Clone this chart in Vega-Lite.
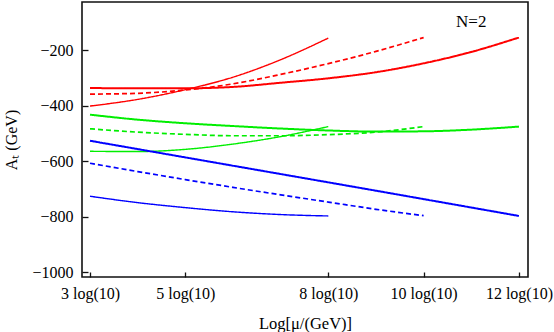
{
  "$schema": "https://vega.github.io/schema/vega-lite/v6.json",
  "width": 446,
  "height": 275,
  "autosize": {"type": "none"},
  "padding": {"left": 82, "top": 2, "right": 26, "bottom": 55},
  "background": "white",
  "config": {
    "view": {"stroke": "#111", "strokeWidth": 1.6},
    "font": "Liberation Serif",
    "axis": {"labelFont": "Liberation Serif", "titleFont": "Liberation Serif", "labelColor": "#000", "titleColor": "#000", "titleFontWeight": "normal", "tickColor": "#111", "grid": false, "domain": false}
  },
  "datasets": {
    "curves": [
      {"x": 3, "y": -337, "group": "red", "kind": "thick"},
      {"x": 4, "y": -338, "group": "red", "kind": "thick"},
      {"x": 5, "y": -338, "group": "red", "kind": "thick"},
      {"x": 6, "y": -333, "group": "red", "kind": "thick"},
      {"x": 7, "y": -318, "group": "red", "kind": "thick"},
      {"x": 8, "y": -302, "group": "red", "kind": "thick"},
      {"x": 9, "y": -280, "group": "red", "kind": "thick"},
      {"x": 10, "y": -248, "group": "red", "kind": "thick"},
      {"x": 11, "y": -207, "group": "red", "kind": "thick"},
      {"x": 12, "y": -155, "group": "red", "kind": "thick"},
      {"x": 3, "y": -359, "group": "red", "kind": "dashed"},
      {"x": 4, "y": -356, "group": "red", "kind": "dashed"},
      {"x": 5, "y": -344, "group": "red", "kind": "dashed"},
      {"x": 6, "y": -322, "group": "red", "kind": "dashed"},
      {"x": 7, "y": -288, "group": "red", "kind": "dashed"},
      {"x": 8, "y": -249, "group": "red", "kind": "dashed"},
      {"x": 9, "y": -205, "group": "red", "kind": "dashed"},
      {"x": 10, "y": -155, "group": "red", "kind": "dashed"},
      {"x": 3, "y": -402, "group": "red", "kind": "thin"},
      {"x": 4, "y": -378, "group": "red", "kind": "thin"},
      {"x": 5, "y": -343, "group": "red", "kind": "thin"},
      {"x": 6, "y": -298, "group": "red", "kind": "thin"},
      {"x": 7, "y": -235, "group": "red", "kind": "thin"},
      {"x": 8, "y": -157, "group": "red", "kind": "thin"},
      {"x": 3, "y": -433, "group": "green", "kind": "thick"},
      {"x": 4, "y": -451, "group": "green", "kind": "thick"},
      {"x": 5, "y": -464, "group": "green", "kind": "thick"},
      {"x": 6, "y": -474, "group": "green", "kind": "thick"},
      {"x": 7, "y": -483, "group": "green", "kind": "thick"},
      {"x": 8, "y": -490, "group": "green", "kind": "thick"},
      {"x": 9, "y": -494, "group": "green", "kind": "thick"},
      {"x": 10, "y": -493, "group": "green", "kind": "thick"},
      {"x": 11, "y": -487, "group": "green", "kind": "thick"},
      {"x": 12, "y": -476, "group": "green", "kind": "thick"},
      {"x": 3, "y": -484, "group": "green", "kind": "dashed"},
      {"x": 4, "y": -496, "group": "green", "kind": "dashed"},
      {"x": 5, "y": -504, "group": "green", "kind": "dashed"},
      {"x": 6, "y": -509, "group": "green", "kind": "dashed"},
      {"x": 7, "y": -509, "group": "green", "kind": "dashed"},
      {"x": 8, "y": -505, "group": "green", "kind": "dashed"},
      {"x": 9, "y": -496, "group": "green", "kind": "dashed"},
      {"x": 10, "y": -476, "group": "green", "kind": "dashed"},
      {"x": 3, "y": -565, "group": "green", "kind": "thin"},
      {"x": 4, "y": -566, "group": "green", "kind": "thin"},
      {"x": 5, "y": -558, "group": "green", "kind": "thin"},
      {"x": 6, "y": -539, "group": "green", "kind": "thin"},
      {"x": 7, "y": -512, "group": "green", "kind": "thin"},
      {"x": 8, "y": -476, "group": "green", "kind": "thin"},
      {"x": 3, "y": -527, "group": "blue", "kind": "thick"},
      {"x": 6, "y": -617, "group": "blue", "kind": "thick"},
      {"x": 9, "y": -707, "group": "blue", "kind": "thick"},
      {"x": 12, "y": -798, "group": "blue", "kind": "thick"},
      {"x": 3, "y": -608, "group": "blue", "kind": "dashed"},
      {"x": 4, "y": -638, "group": "blue", "kind": "dashed"},
      {"x": 5, "y": -667, "group": "blue", "kind": "dashed"},
      {"x": 6, "y": -695, "group": "blue", "kind": "dashed"},
      {"x": 7, "y": -722, "group": "blue", "kind": "dashed"},
      {"x": 8, "y": -748, "group": "blue", "kind": "dashed"},
      {"x": 9, "y": -774, "group": "blue", "kind": "dashed"},
      {"x": 10, "y": -797, "group": "blue", "kind": "dashed"},
      {"x": 3, "y": -727, "group": "blue", "kind": "thin"},
      {"x": 4, "y": -750, "group": "blue", "kind": "thin"},
      {"x": 5, "y": -768, "group": "blue", "kind": "thin"},
      {"x": 6, "y": -783, "group": "blue", "kind": "thin"},
      {"x": 7, "y": -793, "group": "blue", "kind": "thin"},
      {"x": 8, "y": -798, "group": "blue", "kind": "thin"}
    ],
    "notes": [{"x": 11.0, "y": -99, "label": "N=2"}]
  },
  "layer": [
    {
      "data": {"name": "curves"},
      "mark": {"type": "line", "interpolate": "monotone", "clip": true},
      "encoding": {
        "x": {
          "field": "x", "type": "quantitative",
          "scale": {"domain": [2.832, 12.19], "nice": false, "zero": false},
          "axis": {
            "values": [3, 5, 8, 10, 12],
            "labelExpr": "datum.value + ' log(10)'",
            "labelFontSize": 16,
            "tickSize": -5,
            "tickWidth": 1.3,
            "labelPadding": 13,
            "title": "Log[μ/(GeV)]",
            "titleFontSize": 16.5,
            "titlePadding": 14
          }
        },
        "y": {
          "field": "y", "type": "quantitative",
          "scale": {"domain": [-1018, -27], "nice": false, "zero": false},
          "axis": {
            "values": [-1000, -950, -900, -850, -800, -750, -700, -650, -600, -550, -500, -450, -400, -350, -300, -250, -200, -150, -100, -50],
            "format": "d",
            "labelExpr": "datum.value % 200 === 0 ? datum.label : ''",
            "labelFontSize": 16,
            "tickSize": {"condition": {"test": "datum.value % 200 === 0", "value": -6}, "value": -3},
            "tickWidth": 1.3,
            "labelPadding": 15,
            "title": "Aₜ (GeV)",
            "titleFontSize": 16,
            "titlePadding": 12
          }
        },
        "detail": {"field": "kind"},
        "color": {
          "field": "group", "type": "nominal",
          "scale": {"domain": ["red", "green", "blue"], "range": ["#ff0000", "#00ee00", "#0000ff"]},
          "legend": null
        },
        "strokeWidth": {
          "field": "kind", "type": "nominal",
          "scale": {"domain": ["thick", "dashed", "thin"], "range": [2, 1.4, 1.3]},
          "legend": null
        },
        "strokeDash": {
          "field": "kind", "type": "nominal",
          "scale": {"domain": ["thick", "dashed", "thin"], "range": [[1, 0], [5, 3], [1, 0]]},
          "legend": null
        }
      }
    },
    {
      "data": {"name": "notes"},
      "mark": {"type": "text", "font": "Liberation Serif", "fontSize": 17, "color": "#000"},
      "encoding": {
        "x": {"field": "x", "type": "quantitative"},
        "y": {"field": "y", "type": "quantitative"},
        "text": {"field": "label"}
      }
    }
  ]
}
